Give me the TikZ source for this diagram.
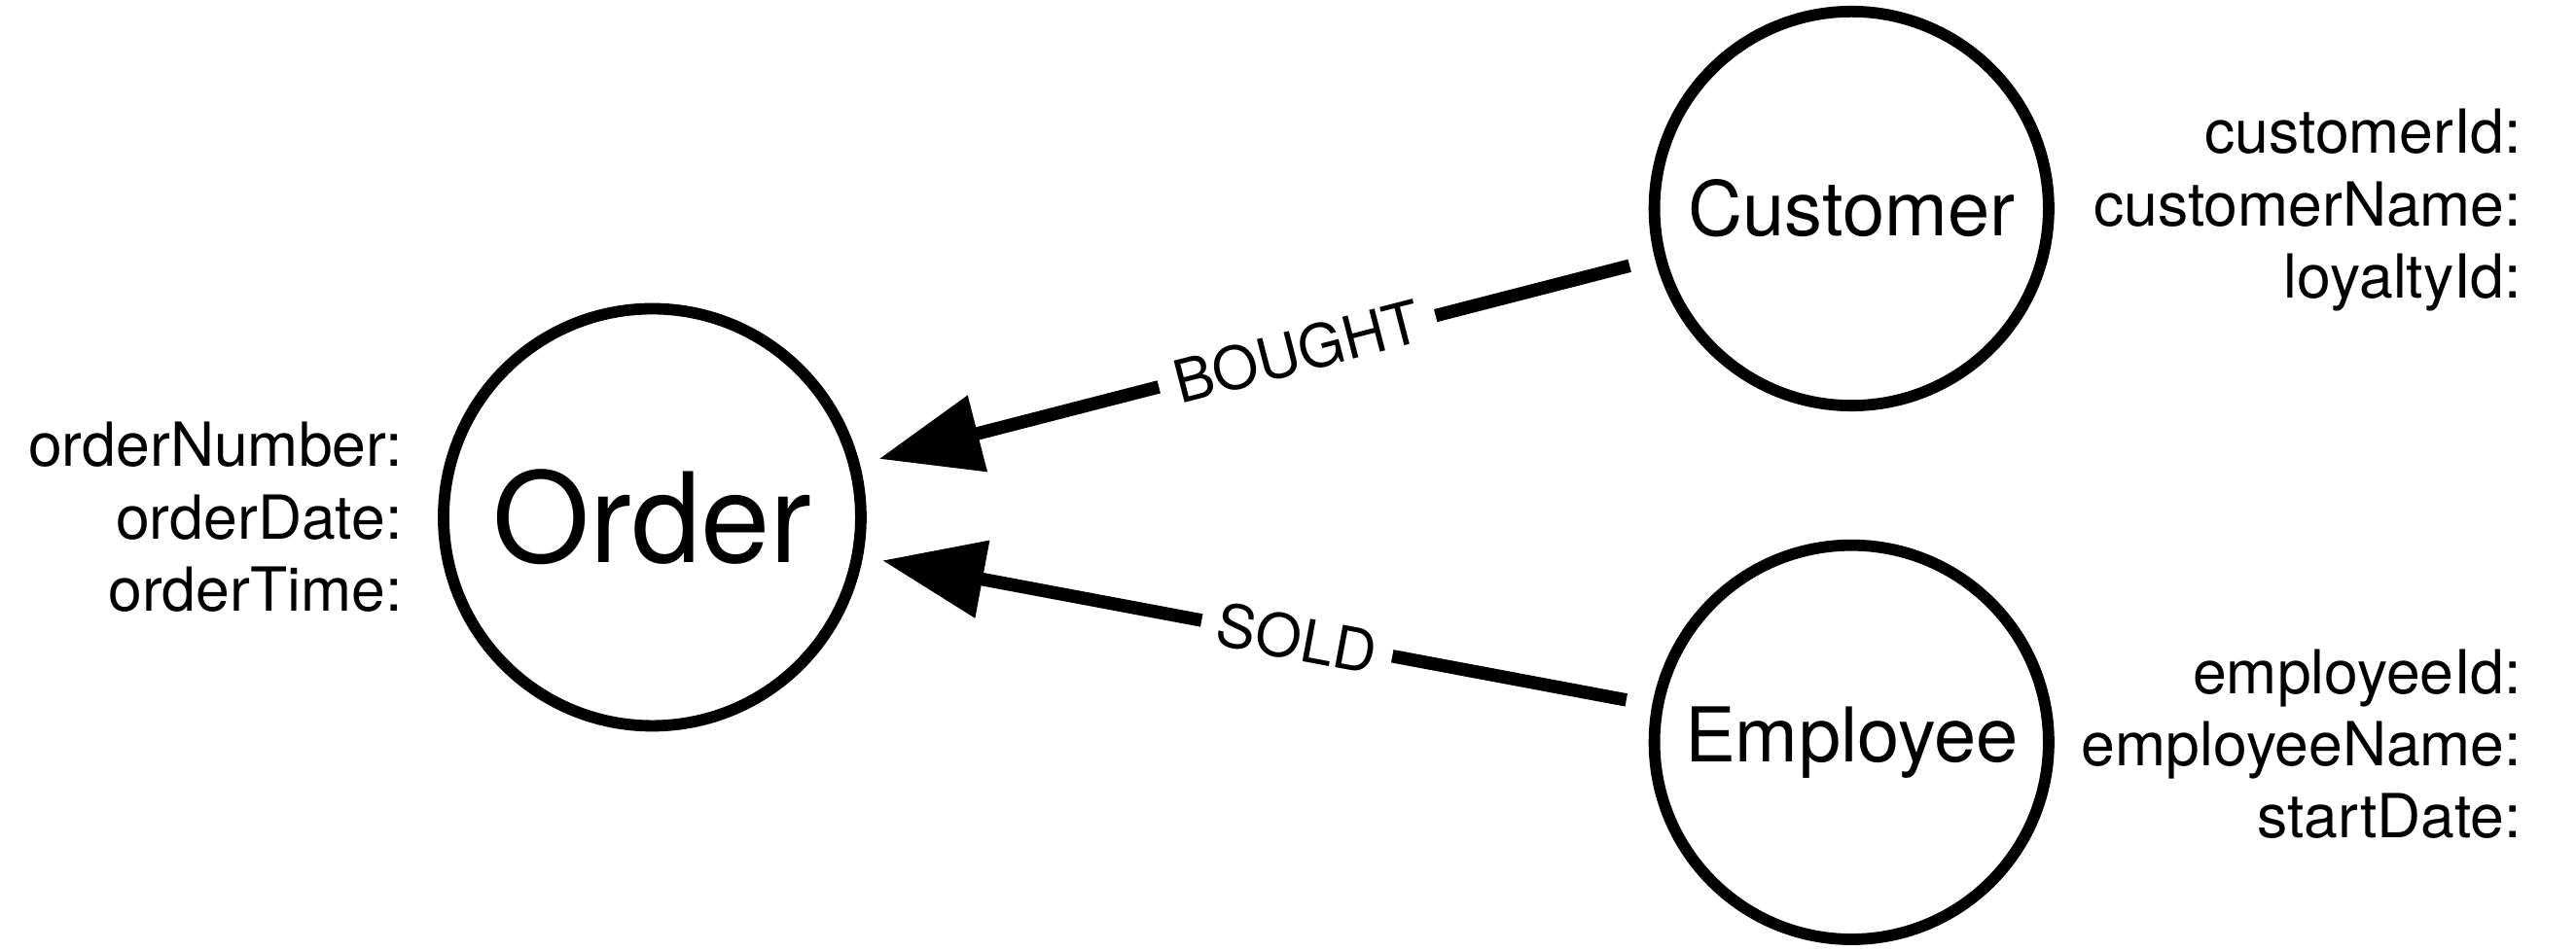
\documentclass[tikz,border=0pt]{standalone}
\usepackage{fontspec}
\setmainfont{TeX Gyre Heros}
\usetikzlibrary{arrows.meta}
\begin{document}
\begin{tikzpicture}[x=1pt,y=-1pt,
  ent/.style={circle,draw,line width=7pt,inner sep=0pt},
  attr/.style={anchor=east,font=\fontsize{37}{44}\selectfont,align=right,inner sep=0pt},
  rel/.style={line width=8pt,-{Triangle[length=62pt,width=46pt]},shorten >=12pt,shorten <=16pt},
  lbl/.style={fill=white,font=\fontsize{36}{40}\selectfont,inner xsep=10pt,inner ysep=4pt,sloped}]
\useasboundingbox[fill=white] (0,0) rectangle (1568,579);
\node[ent,minimum size=254pt,font=\fontsize{76}{80}\selectfont] (order) at (397,315) {Order};
\node[ent,minimum size=240pt,font=\fontsize{46}{50}\selectfont] (cust) at (1127,127) {Customer};
\node[ent,minimum size=240pt,font=\fontsize{46}{50}\selectfont] (emp) at (1127,452) {Employee};
\node[attr] (oa) at (245,315) {orderNumber:\\orderDate:\\orderTime:};
\node[attr] (ca) at (1535,128) {customerId:\\customerName:\\loyaltyId:};
\node[attr] (ea) at (1535,453) {employeeId:\\employeeName:\\startDate:};
\draw[rel] (cust) -- node[lbl,pos=0.45] (bl) {BOUGHT} (order);
\draw[rel] (emp) -- node[lbl,pos=0.45] (sl) {SOLD} (order);
\end{tikzpicture}
\end{document}
